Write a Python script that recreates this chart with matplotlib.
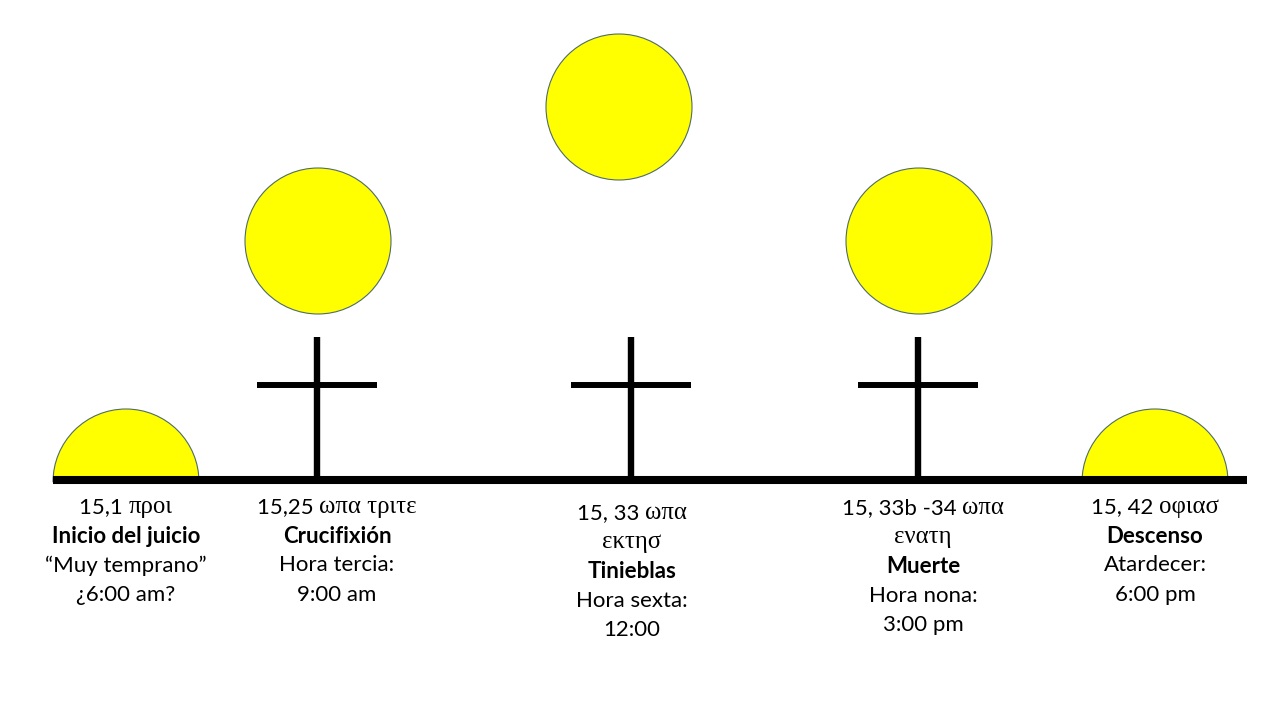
import matplotlib

matplotlib.use("Agg")

import matplotlib.pyplot as plt
from matplotlib.patches import Circle, Wedge

# Events along the day (Mark 15)
refs = ["15,1 ", "15,25 ", "15, 33 ", "15, 33b -34 ", "15, 42 "]
greek_1 = ["προι", "ωπα τριτε", "ωπα", "ωπα", "οφιασ"]
greek_2 = ["", "", "εκτησ", "ενατη", ""]
titles = ["Inicio del juicio", "Crucifixión", "Tinieblas", "Muerte", "Descenso"]
notes = [
    ["“Muy temprano”", "¿6:00 am?"],
    ["Hora tercia:", "9:00 am"],
    ["Hora sexta:", "12:00"],
    ["Hora nona:", "3:00 pm"],
    ["Atardecer:", "6:00 pm"],
]
sun_kind = ["half", "full", "full", "full", "half"]
has_cross = [False, True, True, True, False]

# layout (pixel space, y downwards)
sun_x = [126, 318, 619, 919, 1155]
sun_y = [482, 241, 107, 241, 482]
cross_x = [None, 317, 631, 918, None]
text_x = [126, 337, 632, 923, 1155]
text_top = [507, 507, 513, 508, 507]
LINE_H = 29.2
SUN_R = 73
BASE_Y = 480

LATIN = "Lato"
GREEK = "Liberation Serif"
FS = 16

fig = plt.figure(figsize=(12.8, 7.2), dpi=100)
ax = fig.add_axes([0, 0, 1, 1])
ax.set_xlim(0, 1280)
ax.set_ylim(720, 0)
ax.axis("off")

# suns
for x, y, kind in zip(sun_x, sun_y, sun_kind):
    if kind == "half":
        patch = Wedge((x, y), SUN_R, 180, 360, facecolor="#ffff00",
                      edgecolor="#4f6b6b", linewidth=0.8, zorder=2)
    else:
        patch = Circle((x, y), SUN_R, facecolor="#ffff00",
                       edgecolor="#4f6b6b", linewidth=0.8, zorder=2)
    ax.add_patch(patch)

# crosses
for x, c in zip(cross_x, has_cross):
    if not c:
        continue
    ax.plot([x, x], [337, BASE_Y], color="black", lw=4.6,
            solid_capstyle="butt", zorder=3)
    ax.plot([x - 60, x + 60], [385, 385], color="black", lw=4.3,
            solid_capstyle="butt", zorder=3)

# time line
ax.plot([53, 1247], [BASE_Y, BASE_Y], color="black", lw=5.8,
        solid_capstyle="butt", zorder=4)

fig.canvas.draw()
renderer = fig.canvas.get_renderer()


def mixed_line(x, y, latin, greek):
    """Latin part in sans, Greek part in serif, centred together on x."""
    t1 = ax.text(0, y, latin, family=LATIN, fontsize=FS, ha="left", va="center")
    t2 = ax.text(0, y, greek, family=GREEK, fontsize=FS + 1.8, ha="left", va="center")
    w1 = t1.get_window_extent(renderer).width
    w2 = t2.get_window_extent(renderer).width if greek else 0
    left = x - (w1 + w2) / 2
    t1.set_x(left)
    t2.set_x(left + w1)


for i in range(len(refs)):
    x = text_x[i]
    y = text_top[i]
    mixed_line(x, y, refs[i], greek_1[i])
    y += LINE_H
    if greek_2[i]:
        ax.text(x, y, greek_2[i], family=GREEK, fontsize=FS + 1.8,
                ha="center", va="center")
        y += LINE_H
    ax.text(x, y, titles[i], family=LATIN, fontsize=FS, fontweight="bold",
            ha="center", va="center")
    for note in notes[i]:
        y += LINE_H
        ax.text(x, y, note, family=LATIN, fontsize=FS, ha="center", va="center")

fig.savefig("out.png", dpi=100)
